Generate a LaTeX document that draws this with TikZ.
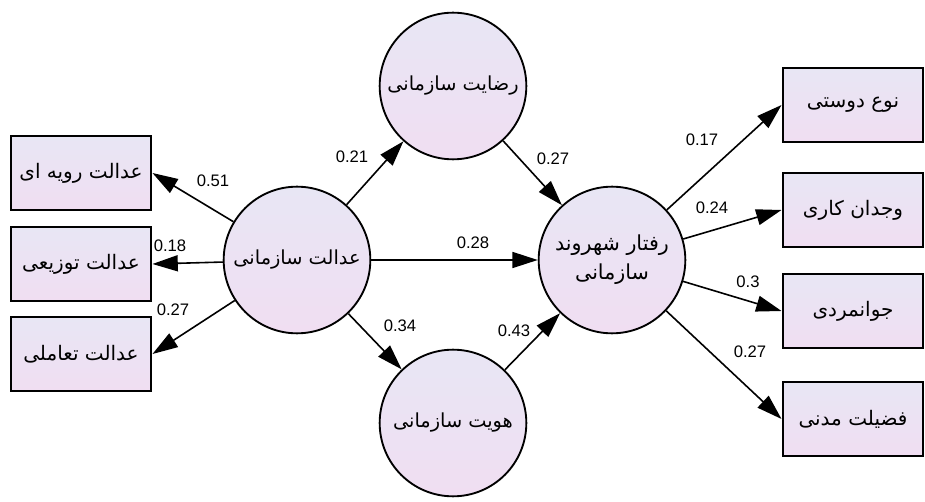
\documentclass[tikz,border=0pt]{standalone}
\usepackage{fontspec}
\setmainfont{Liberation Sans}
\newfontfamily\fa[Script=Arabic]{DejaVu Sans}
\TeXXeTstate=1
\usetikzlibrary{arrows.meta}
\definecolor{lavtop}{RGB}{232,230,244}
\definecolor{lavbot}{RGB}{240,222,242}
\begin{document}
\begin{tikzpicture}[x=0.75pt,y=-0.75pt,
 latent/.style={circle,draw=black,line width=1.4pt,minimum size=110pt,inner sep=0pt,top color=lavtop,bottom color=lavbot,align=center,font=\fa\fontsize{14.5}{17}\selectfont},
 obs/.style={rectangle,draw=black,line width=2.2pt,minimum width=105pt,minimum height=55.5pt,top color=lavtop,bottom color=lavbot,font=\fa\fontsize{15}{17}\selectfont},
 arr/.style={line width=1.2pt,-{Triangle[length=19pt,width=12pt]}},
 coef/.style={font=\fontsize{12.5}{14}\selectfont,inner sep=0pt}]
\path[use as bounding box,fill=white] (0,0) rectangle (925,502);
% latent variables
\node[latent] (oj) at (297,260) {\beginR عدالت سازمانی\endR};
\node[latent] (os) at (453,86) {\beginR رضایت سازمانی\endR};
\node[latent] (oi) at (453,423) {\beginR هویت سازمانی\endR};
\node[latent,font=\fa\fontsize{15.5}{22}\selectfont] (ocb) at (612,260) {\beginR رفتار شهروند\endR\\\beginR سازمانی\endR};
% coefficients (drawn under the boxes, as in the reference)
\node[coef] (c1) at (213,181) {0.51};
\node[coef] (c2) at (170,246) {0.18};
\node[coef] (c3) at (173,310) {0.27};
\node[coef] (c4) at (352,157) {0.21};
\node[coef] (c5) at (400,326) {0.34};
\node[coef] (c6) at (473,243) {0.28};
\node[coef] (c7) at (553,159) {0.27};
\node[coef] (c8) at (514,331) {0.43};
\node[coef] (c9) at (702,140) {0.17};
\node[coef] (c10) at (712,208) {0.24};
\node[coef] (c11) at (748,282) {0.3};
\node[coef] (c12) at (750,352) {0.27};
% observed, left
\node[obs] (l1) at (81,173) {\beginR عدالت رویه ای\endR};
\node[obs] (l2) at (81,264) {\beginR عدالت توزیعی\endR};
\node[obs] (l3) at (81,354) {\beginR عدالت تعاملی\endR};
% observed, right
\node[obs] (r1) at (853,105) {\beginR نوع دوستی\endR};
\node[obs] (r2) at (853,210) {\beginR وجدان کاری\endR};
\node[obs] (r3) at (853,311) {\beginR جوانمردی\endR};
\node[obs] (r4) at (853,419) {\beginR فضیلت مدنی\endR};
% paths
\draw[arr] (oj) -- (l1.east);
\draw[arr] (oj) -- (l2.east);
\draw[arr] (oj) -- (l3.east);
\draw[arr] (oj) -- (os);
\draw[arr] (oj) -- (oi);
\draw[arr] (oj) -- (ocb);
\draw[arr] (os) -- (ocb);
\draw[arr] (oi) -- (ocb);
\draw[arr] (ocb) -- (r1.west);
\draw[arr] (ocb) -- (r2.west);
\draw[arr] (ocb) -- (r3.west);
\draw[arr] (ocb) -- (r4.west);
\end{tikzpicture}
\end{document}
